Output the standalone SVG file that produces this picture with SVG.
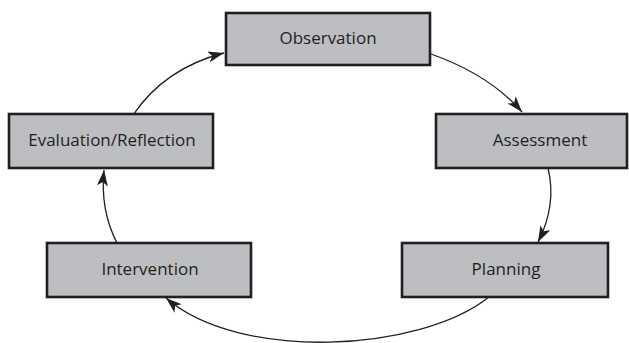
<svg xmlns="http://www.w3.org/2000/svg" width="629" height="343" viewBox="0 0 629 343">
<defs>
<style>
.box{fill:#bdbec1;stroke:#231f20;stroke-width:2.6}
.lbl{font-family:"Open Sans","Noto Sans",sans-serif;font-size:17px;fill:#231f20;text-anchor:middle}
.con{fill:none;stroke:#231f20;stroke-width:1.3;marker-end:url(#ah)}
</style>
<marker id="ah" markerUnits="userSpaceOnUse" markerWidth="18" markerHeight="12" refX="16" refY="5.5" orient="auto">
<path d="M0,0 L16,5.5 L0,11 L4,5.5 z" fill="#231f20"/>
</marker>
</defs>
<rect width="629" height="343" fill="#fff"/>
<g id="connectors">
<path class="con" d="M431 54 Q490 75 522 112"/>
<path class="con" d="M548 168 Q557 205 538 242"/>
<path class="con" d="M489 297 C420 352 240 362 166 298"/>
<path class="con" d="M117 243 Q100 210 104 170"/>
<path class="con" d="M133 115 Q165 68 224 53"/>
</g>
<g id="observation">
<rect class="box" x="226" y="13" width="204" height="52"/>
<text class="lbl" x="328" y="44">Observation</text>
</g>
<g id="assessment">
<rect class="box" x="436" y="114" width="191" height="54"/>
<text class="lbl" x="540" y="146">Assessment</text>
</g>
<g id="planning">
<rect class="box" x="402" y="243" width="206" height="54"/>
<text class="lbl" x="506" y="275">Planning</text>
</g>
<g id="intervention">
<rect class="box" x="47" y="243" width="204" height="54"/>
<text class="lbl" x="150" y="275">Intervention</text>
</g>
<g id="evaluation">
<rect class="box" x="9" y="114" width="204" height="54"/>
<text class="lbl" x="112" y="146">Evaluation/Reflection</text>
</g>
</svg>
